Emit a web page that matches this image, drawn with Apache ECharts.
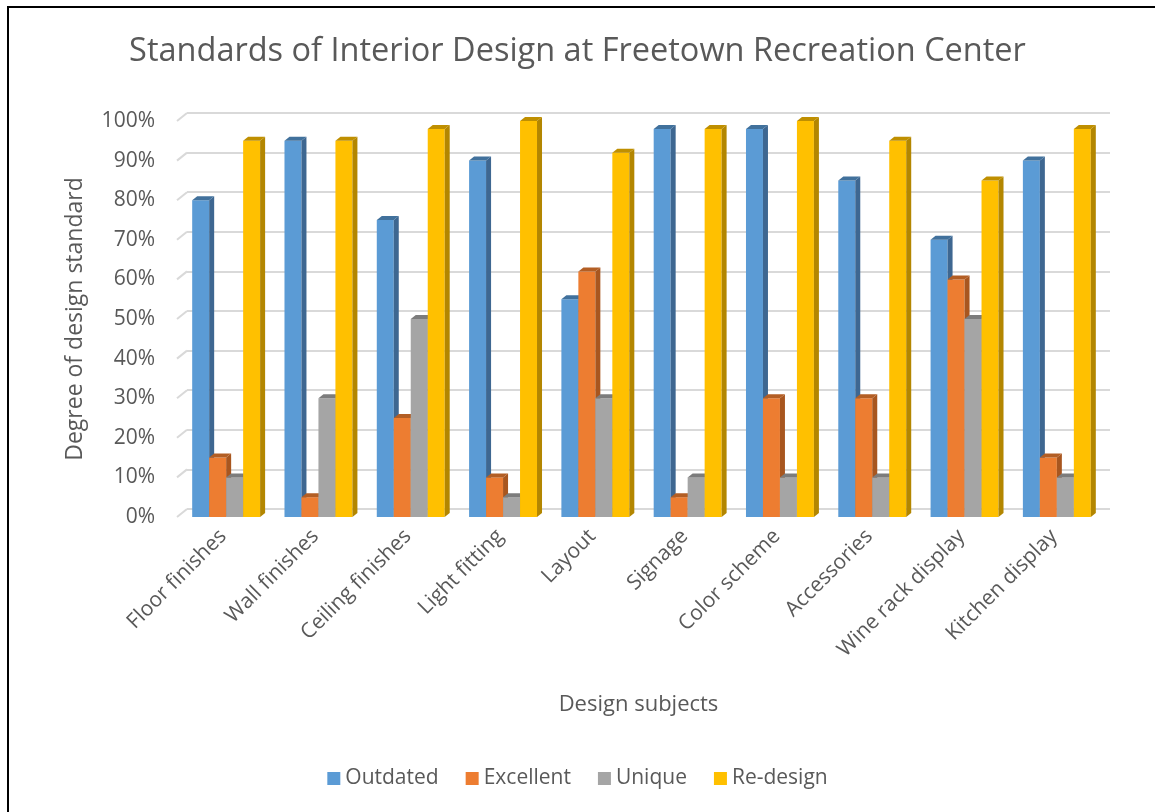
<!DOCTYPE html>
<html>
<head>
<meta charset="utf-8">
<script src="https://cdn.jsdelivr.net/npm/echarts@6/dist/echarts.min.js"></script>
<style>
  html, body { margin: 0; padding: 0; background: #fff; }
  #chart { width: 1155px; height: 812px; }
  #frame { position: absolute; left: 7px; top: 6px; width: 1200px; height: 900px;
           border-top: 2px solid #000; border-left: 2px solid #000; pointer-events: none; }
</style>
</head>
<body>
<div id="chart"></div>
<div id="frame"></div>
<script>
// categories and series values (percent)
var categories = ['Floor finishes', 'Wall finishes', 'Ceiling finishes', 'Light fitting', 'Layout',
  'Signage', 'Color scheme', 'Accessories', 'Wine rack display', 'Kitchen display']
var outdated = [80, 95, 75, 90, 55, 98, 98, 85, 70, 90]
var excellent = [15, 5, 25, 10, 62, 5, 30, 30, 60, 15]
var unique = [10, 30, 50, 5, 30, 10, 10, 10, 50, 10]
var redesign = [95, 95, 98, 100, 92, 98, 100, 95, 85, 98]
var yTicks = [0, 10, 20, 30, 40, 50, 60, 70, 80, 90, 100]

var seriesNames = ['Outdated', 'Excellent', 'Unique', 'Re-design']
var seriesData = [outdated, excellent, unique, redesign]
// front, side, top colours
var palette = [
  ['#5B9BD5', '#3E6791', '#41719C'],
  ['#ED7D31', '#A8561F', '#B35E24'],
  ['#A5A5A5', '#757575', '#7C7C7C'],
  ['#FFC000', '#B38600', '#BF8F00']
]
var textColor = '#595959'
var font = 'Open Sans'
var DX = 5, DY = -4

// draws one column with a side and a top face so it looks like the 3D bars
const barRenderer = (si) => (params, api) => {
  const cat = api.value(0)
  const val = api.value(1)
  const base = api.coord([cat, 0])
  const top = api.coord([cat, val])
  const band = api.size([1, 0])[0]
  const w = band * 0.184
  const x0 = base[0] - 2 * w + 3 + si * w
  const x1 = x0 + w
  const c = palette[si]
  return {
    type: 'group',
    children: [
      { type: 'rect', shape: { x: x0, y: top[1], width: w, height: base[1] - top[1] },
        style: { fill: c[0] } },
      { type: 'polygon', shape: { points: [[x1, top[1]], [x1 + DX, top[1] + DY], [x1 + DX, base[1] + DY], [x1, base[1]]] },
        style: { fill: c[1] } },
      { type: 'polygon', shape: { points: [[x0, top[1]], [x0 + DX, top[1] + DY], [x1 + DX, top[1] + DY], [x1, top[1]]] },
        style: { fill: c[2] } }
    ]
  }
}

// short floor-to-wall diagonals at the left end of each gridline
const diagRenderer = (params, api) => {
  const v = api.value(0)
  const y = api.coord([0, v])[1]
  const x = params.coordSys.x
  return { type: 'line', shape: { x1: x, y1: y, x2: x + 10, y2: y - 8 },
    style: { stroke: '#D9D9D9', lineWidth: 2 } }
}

const series = seriesNames.map((name, si) => ({
  name: name,
  type: 'custom',
  xAxisIndex: 0,
  yAxisIndex: 0,
  z: 5,
  itemStyle: { color: palette[si][0] },
  renderItem: barRenderer(si),
  encode: { x: 0, y: 1 },
  data: seriesData[si].map((v, i) => [i, v])
}))
series.unshift({
  type: 'custom',
  xAxisIndex: 0,
  yAxisIndex: 0,
  z: 1,
  silent: true,
  renderItem: diagRenderer,
  encode: { y: 0 },
  data: yTicks.map(v => [v])
})

const chart = echarts.init(document.getElementById('chart'))
chart.setOption({
  animation: false,
  title: {
    text: 'Standards of Interior Design at Freetown Recreation Center',
    left: 'center',
    top: 30,
    textStyle: { fontFamily: font, fontSize: 32.5, fontWeight: 'normal', color: textColor }
  },
  legend: {
    data: seriesNames,
    bottom: 18,
    left: 'center',
    icon: 'rect',
    itemWidth: 13,
    itemHeight: 13,
    itemGap: 27,
    textStyle: { fontFamily: font, fontSize: 21, color: textColor }
  },
  grid: [
    { left: 177, right: 55, top: 121, bottom: 295 },
    { left: 187, right: 45, top: 113, bottom: 303 }
  ],
  xAxis: [
    {
      type: 'category',
      gridIndex: 0,
      data: categories,
      axisLine: { show: false },
      axisTick: { show: false },
      axisLabel: { rotate: 45, fontFamily: font, fontSize: 21, color: textColor, margin: 16 },
      name: 'Design subjects',
      nameLocation: 'middle',
      nameGap: 177,
      nameTextStyle: { fontFamily: font, fontSize: 22, color: textColor }
    },
    { type: 'category', gridIndex: 1, data: categories, show: false }
  ],
  yAxis: [
    {
      type: 'value',
      gridIndex: 0,
      min: 0,
      max: 100,
      interval: 10,
      splitLine: { show: false },
      axisLine: { show: false },
      axisTick: { show: false },
      axisLabel: { formatter: '{value}%', fontFamily: font, fontSize: 21, color: textColor, margin: 22,
        verticalAlign: 'middle', padding: [12, 0, 0, 0] },
      name: 'Degree of design standard',
      nameLocation: 'middle',
      nameGap: 90,
      nameTextStyle: { fontFamily: font, fontSize: 23, color: textColor }
    },
    {
      type: 'value',
      gridIndex: 1,
      min: 0,
      max: 100,
      interval: 10,
      axisLine: { show: false },
      axisTick: { show: false },
      axisLabel: { show: false },
      splitLine: { lineStyle: { color: '#D9D9D9', width: 2 } }
    }
  ],
  series: series
})
</script>
</body>
</html>
